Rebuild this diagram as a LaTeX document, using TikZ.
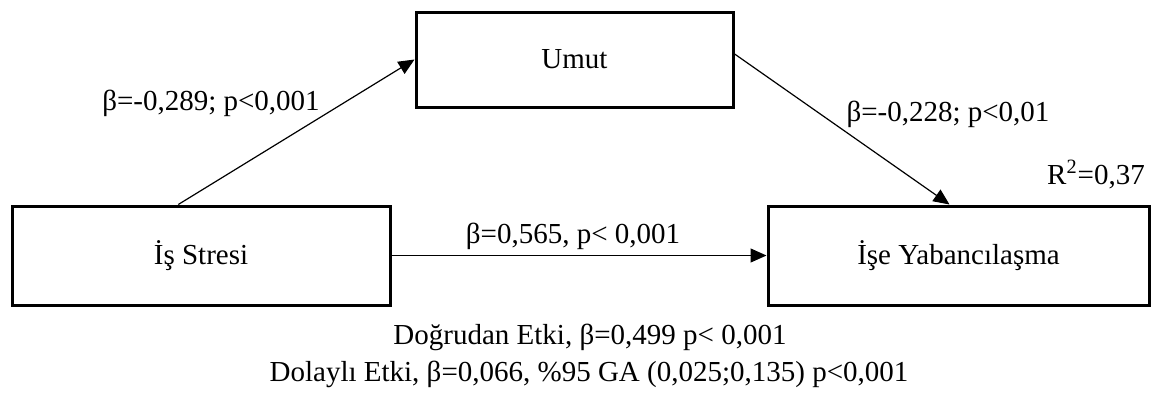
\documentclass[tikz,border=0pt]{standalone}
\usepackage{fontspec}
\setmainfont{Liberation Serif}
\usetikzlibrary{arrows.meta, positioning}

\begin{document}
\begin{tikzpicture}[x=0.5pt, y=-0.5pt, font=\fontsize{14.5}{17}\selectfont,
	box/.style={draw, line width=1.5pt, minimum height=49.5pt, inner sep=0pt},
	arr/.style={-{Triangle[length=8pt,width=7pt]}, line width=0.6pt}]
	\useasboundingbox (0,0) rectangle (1152,392);
	\node[box, minimum width=189pt] (stres) at (201,255.5) {İş Stresi};
	\node[box, minimum width=158.5pt, minimum height=47.5pt] (umut) at (574.5,59.5) {Umut};
	\node[box, minimum width=190.5pt] (yab) at (958.5,255.5) {İşe Yabancılaşma};
	\node[anchor=base] (a) at (211,110.7) {β=-0,289; p<0,001};
	\node[anchor=base] (b) at (948,121) {β=-0,228; p<0,01};
	\node[anchor=base] (c) at (573,243) {β=0,565, p< 0,001};
	\node[anchor=base] (r2) at (1096,184) {R\textsuperscript{2}=0,37};
	\node[anchor=base] (direct) at (590,344) {Doğrudan Etki, β=0,499 p< 0,001};
	\node[anchor=base] (indirect) at (589,381) {Dolaylı Etki, β=0,066, \%95 GA (0,025;0,135) p<0,001};
	\foreach \from/\to in {stres.114/umut.west, umut.2/yab.100, stres.east/yab.west}
		\draw[arr] (\from) -- (\to);
\end{tikzpicture}
\end{document}
